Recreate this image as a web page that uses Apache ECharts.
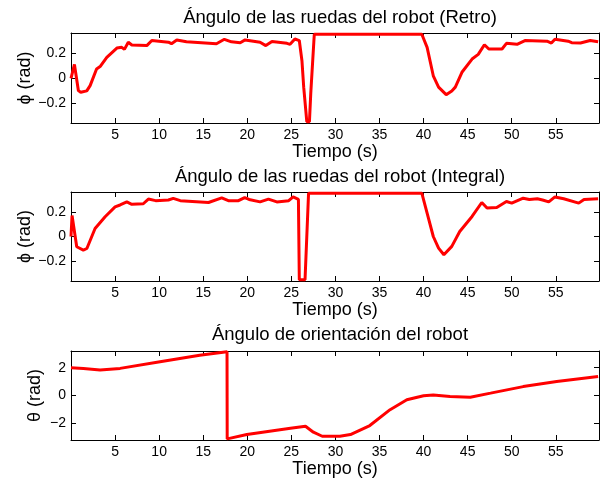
<!DOCTYPE html>
<html>
<head>
  <meta charset="utf-8">
  <title>Ángulos del robot</title>
  <script src="https://cdn.jsdelivr.net/npm/echarts@6/dist/echarts.min.js"></script>
  <style>
    html, body { margin: 0; padding: 0; background: #fff; }
    #chart { width: 605px; height: 481px; }
  </style>
</head>
<body>
<div id="chart"></div>
<script type="text/javascript">
  // datos
  let tRetro = [0, 0.39, 0.84, 1.1, 1.79, 2.17, 2.9, 3.3, 4.06, 5.2, 5.76, 6.06, 6.5, 6.9, 8.6, 9.17, 11.05, 11.4, 12.0, 13.1,
    16.5, 17.4, 18.2, 19.2, 19.75, 21.45, 22.1, 22.8, 24.5, 24.85, 25.4, 25.9, 26.2, 26.4, 26.75, 27.05, 27.2, 27.6, 39.8, 40.4,
    41.1, 41.7, 42.56, 43.2, 43.6, 44.35, 45.5, 46.2, 46.9, 47.4, 48.9, 49.4, 50.6, 51.5, 54.0, 54.5, 54.9, 56.4, 56.8, 57.8, 58.9, 59.8];
  let phiRetro = [0, 0.11, -0.098, -0.111, -0.10, -0.058, 0.074, 0.093, 0.167, 0.24, 0.246, 0.23, 0.286, 0.265, 0.26, 0.30, 0.287, 0.275, 0.304, 0.29,
    0.275, 0.31, 0.29, 0.283, 0.305, 0.286, 0.26, 0.293, 0.278, 0.27, 0.312, 0.30, 0.14, -0.07, -0.345, -0.345, -0.12, 0.35, 0.35, 0.246,
    0.02, -0.07, -0.13, -0.10, -0.07, 0.048, 0.153, 0.19, 0.267, 0.233, 0.233, 0.278, 0.27, 0.30, 0.295, 0.28, 0.31, 0.295, 0.283, 0.28, 0.30, 0.29];

  let tInt = [0, 0.12, 0.65, 1.4, 1.8, 2.73, 3.87, 5.0, 5.57, 6.33, 6.9, 8.2, 8.78, 9.6, 11.05, 11.6, 12.4, 15.6, 17.1, 17.85,
    19.0, 19.7, 20.2, 21.45, 22.4, 23.35, 24.7, 25.2, 25.8, 25.9, 26.55, 26.95, 39.8, 40.4, 41.1, 41.7, 42.3, 43.2, 44.1, 45.5,
    46.6, 47.2, 48.3, 49.4, 50.0, 51.3, 52.0, 52.9, 53.5, 54.2, 54.9, 55.9, 57.6, 58.2, 59.8];
  let phiInt = [0, 0.17, -0.083, -0.11, -0.097, 0.065, 0.16, 0.24, 0.255, 0.28, 0.26, 0.265, 0.303, 0.29, 0.295, 0.308, 0.29, 0.275, 0.313, 0.29,
    0.29, 0.315, 0.30, 0.28, 0.303, 0.28, 0.29, 0.32, 0.30, -0.35, -0.35, 0.35, 0.35, 0.19, 0.0, -0.094, -0.148, -0.08, 0.04, 0.162,
    0.275, 0.23, 0.235, 0.283, 0.27, 0.31, 0.30, 0.305, 0.295, 0.28, 0.32, 0.305, 0.27, 0.30, 0.305];

  let tTheta = [0, 1.4, 3.3, 5.57, 10.1, 14.6, 17.7, 17.72, 19.95, 24.9, 26.6, 27.5, 28.5, 30.5, 31.7, 33.9, 36.2, 38.1, 40.0, 41.1,
    43.0, 45.3, 47.6, 51.3, 55.1, 59.8];
  let theta = [2.0, 1.95, 1.84, 1.95, 2.43, 2.9, 3.14, -3.12, -2.8, -2.35, -2.21, -2.64, -2.93, -2.93, -2.81, -2.16, -1.02, -0.31, -0.02, 0.03,
    -0.07, -0.12, 0.17, 0.64, 1.0, 1.36];

  let xTicks = [5, 10, 15, 20, 25, 30, 35, 40, 45, 50, 55];
  let phiTicks = [-0.2, 0, 0.2];
  let thetaTicks = [-2, 0, 2];

  let titles = ['Ángulo de las ruedas del robot (Retro)', 'Ángulo de las ruedas del robot (Integral)', 'Ángulo de orientación del robot'];
  let font = "'Liberation Sans', Arial, Helvetica, sans-serif";

  function zip(a, b) { return a.map((x, i) => [x, b[i]]); }
  function fmt(v) { return v < 0 ? '\u2212' + Math.abs(v) : String(v); }

  let grids = [
    {left: 71, top: 33, width: 528, height: 90},
    {left: 71, top: 192, width: 528, height: 89},
    {left: 71, top: 351, width: 528, height: 89}
  ];
  let yRanges = [[-0.355, 0.36], [-0.36, 0.36], [-3.2, 3.2]];
  let yTicks = [phiTicks, phiTicks, thetaTicks];
  let yNames = ['ϕ (rad)', 'ϕ (rad)', 'θ (rad)'];
  let yGaps = [37, 37, 27];

  let frameLine = {show: true, onZero: false, lineStyle: {color: '#000', width: 1}};

  let xAxes = [], yAxes = [];
  grids.forEach((g, i) => {
    xAxes.push({
      type: 'value', gridIndex: i, min: 0, max: 59.9, position: 'bottom',
      name: 'Tiempo (s)', nameLocation: 'middle', nameGap: 20, nameMoveOverlap: false,
      nameTextStyle: {fontSize: 18, color: '#000', fontFamily: font},
      axisLine: frameLine,
      axisTick: {show: true, inside: true, length: 5, customValues: xTicks, lineStyle: {color: '#000'}},
      axisLabel: {customValues: xTicks, fontSize: 14, color: '#000', margin: 5, fontFamily: font},
      splitLine: {show: false}
    });
    xAxes.push({
      type: 'value', gridIndex: i, min: 0, max: 59.9, position: 'top',
      axisLine: frameLine,
      axisTick: {show: true, inside: true, length: 5, customValues: xTicks, lineStyle: {color: '#000'}},
      axisLabel: {show: false}, splitLine: {show: false}
    });
    yAxes.push({
      type: 'value', gridIndex: i, min: yRanges[i][0], max: yRanges[i][1], position: 'left',
      name: yNames[i], nameLocation: 'middle', nameGap: yGaps[i], nameRotate: 90, nameMoveOverlap: false,
      nameTextStyle: {fontSize: 18, color: '#000', fontFamily: font},
      axisLine: frameLine,
      axisTick: {show: true, inside: true, length: 5, customValues: yTicks[i], lineStyle: {color: '#000'}},
      axisLabel: {customValues: yTicks[i], fontSize: 14, color: '#000', margin: 5, fontFamily: font, formatter: fmt},
      splitLine: {show: false}
    });
    yAxes.push({
      type: 'value', gridIndex: i, min: yRanges[i][0], max: yRanges[i][1], position: 'right',
      axisLine: frameLine,
      axisTick: {show: true, inside: true, length: 5, customValues: yTicks[i], lineStyle: {color: '#000'}},
      axisLabel: {show: false}, splitLine: {show: false}
    });
  });

  let dataSets = [zip(tRetro, phiRetro), zip(tInt, phiInt), zip(tTheta, theta)];
  let series = dataSets.map((d, i) => ({
    type: 'line', xAxisIndex: i * 2, yAxisIndex: i * 2, data: d,
    showSymbol: false, symbol: 'none', animation: false,
    lineStyle: {color: '#ff0000', width: 3}
  }));

  let myChart = echarts.init(document.getElementById('chart'), null, {renderer: 'canvas'});
  myChart.setOption({
    backgroundColor: '#fff',
    animation: false,
    title: titles.map((t, i) => ({
      text: t, left: 335, textAlign: 'center', top: [3, 162, 320][i],
      textStyle: {fontSize: 18.5, fontWeight: 'normal', color: '#000', fontFamily: font}
    })),
    grid: grids,
    xAxis: xAxes,
    yAxis: yAxes,
    series: series
  });
</script>
</body>
</html>
